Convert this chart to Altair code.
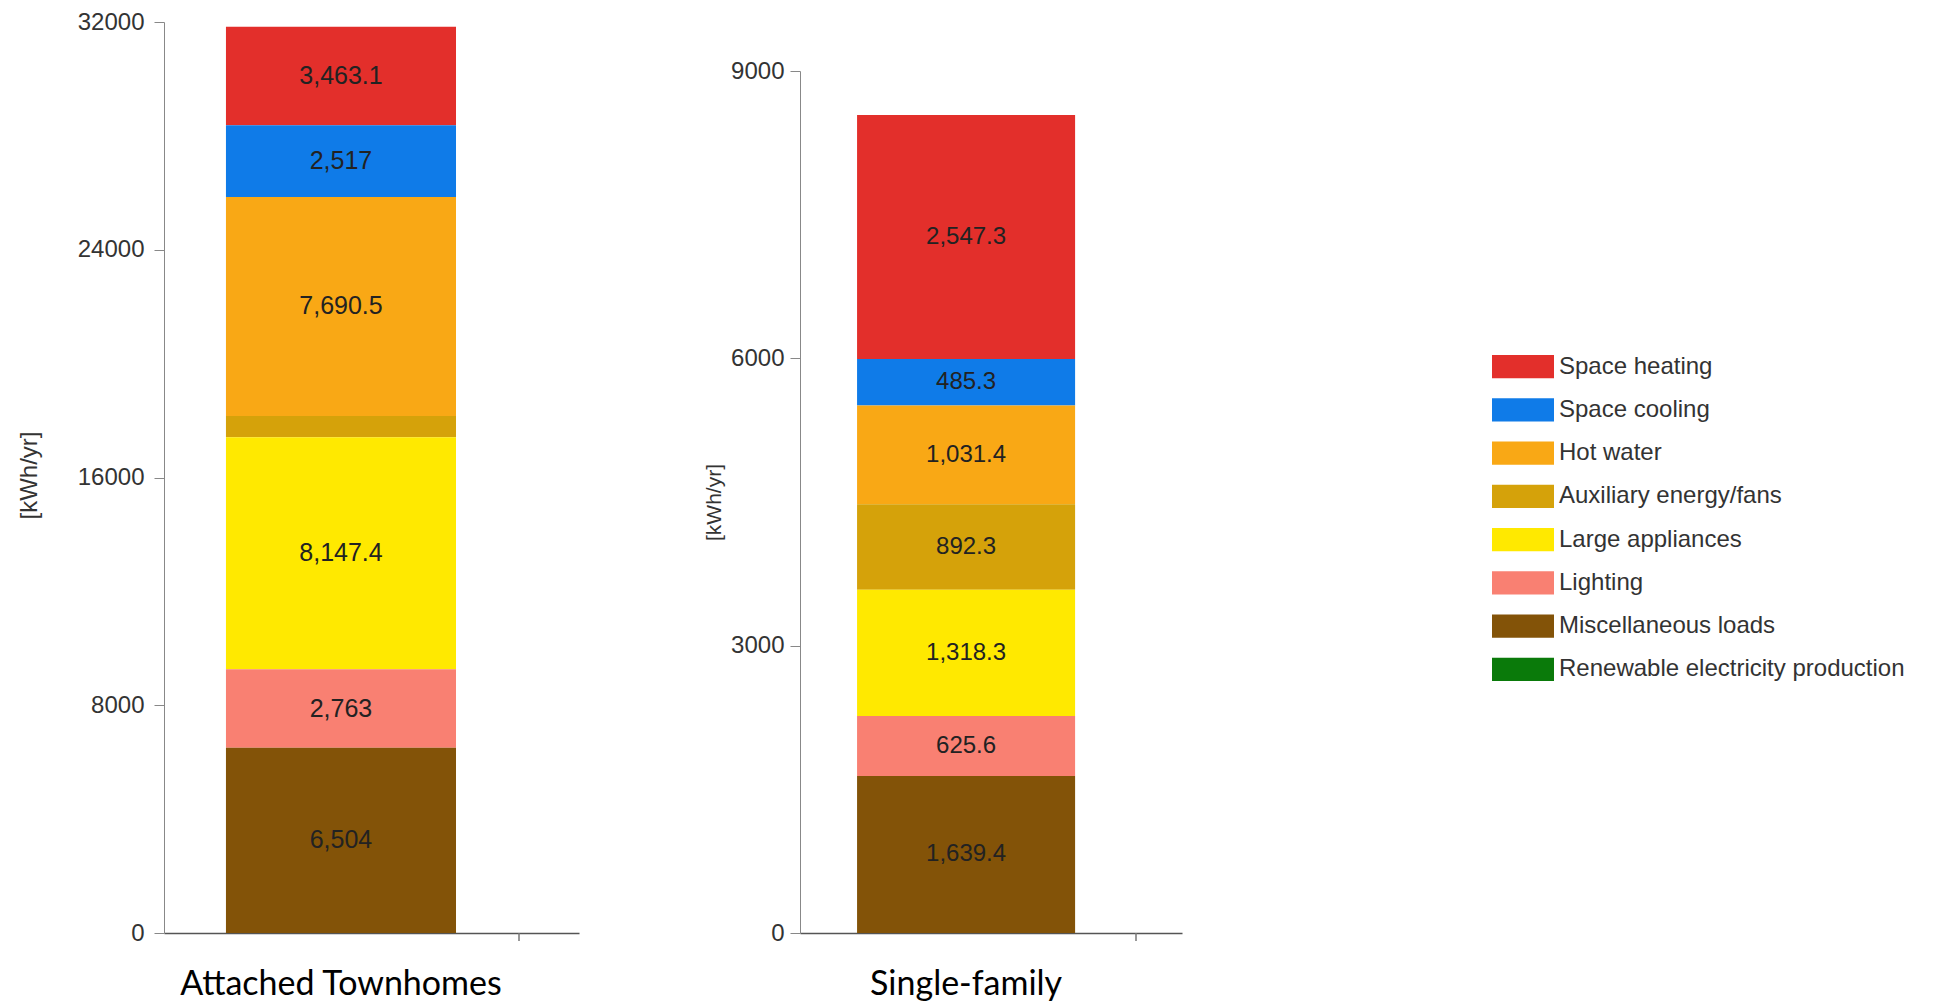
import altair as alt
import pandas as pd

# ---- data ----
categories = [
    "Space heating",
    "Space cooling",
    "Hot water",
    "Auxiliary energy/fans",
    "Large appliances",
    "Lighting",
    "Miscellaneous loads",
    "Renewable electricity production",
]
colors = ["#E32F2B", "#0F7BE8", "#F9A815", "#D5A20A", "#FFE900", "#F98072", "#835308", "#0A7A0A"]
townhome_values = [3463.1, 2517, 7690.5, 750, 8147.4, 2763, 6504, 0]
single_values = [2547.3, 485.3, 1031.4, 892.3, 1318.3, 625.6, 1639.4, 0]
buildings = ["Attached Townhomes", "Single-family"]
y_max = [32000, 9000]
y_ticks = [[0, 8000, 16000, 24000, 32000], [0, 3000, 6000, 9000]]
y_title = "[kWh/yr]"

H = 911
color_scale = alt.Scale(domain=categories, range=colors)


def panel(building, values, ymax, ticks, width, yrange, po, align, tick_x,
          title_x, title_y, title_size, label_size, tick_label_size, tick_pad):
    df = pd.DataFrame({
        "building": building,
        "category": categories,
        "value": values,
        "rank": [len(categories) - 1 - i for i in range(len(categories))],
    })
    base = alt.Chart(df).transform_stack(
        stack="value", groupby=["building"], as_=["y0", "y1"],
        sort=[alt.SortField("rank", order="ascending")],
    ).transform_calculate(mid="(datum.y0 + datum.y1) / 2")

    x = alt.X(
        "building:N", title=None,
        scale=alt.Scale(paddingInner=0, paddingOuter=po, align=align),
        axis=alt.Axis(ticks=False, labelAngle=0, labelFont="Lato", labelFontSize=34,
                      labelColor="#000", labelPadding=34, domainColor="#555",
                      domainWidth=1.5, labelLimit=600),
    )
    yscale = alt.Scale(domain=[0, ymax], range=yrange, nice=False, zero=True)
    yaxis = alt.Axis(values=ticks, format="d", grid=False, domainColor="#888",
                     tickColor="#888", tickSize=10, labelPadding=tick_pad,
                     labelFont="Liberation Sans", labelFontSize=tick_label_size,
                     labelColor="#333", titleFont="Liberation Sans",
                     titleFontSize=title_size, titleFontWeight="normal",
                     titleColor="#333", titleAngle=270, titleX=title_x,
                     titleY=title_y, titleAlign="center",
                     titleBaseline="middle")
    bars = base.mark_bar().encode(
        x=x,
        y=alt.Y("y0:Q", scale=yscale, title=y_title, axis=yaxis),
        y2="y1:Q",
        color=alt.Color("category:N", scale=color_scale, legend=None),
    )
    labels = base.transform_filter(f"datum.value > {ymax * 0.035}").mark_text(
        font="Liberation Sans", fontSize=label_size, color="#222", baseline="middle"
    ).encode(
        x=x,
        y=alt.Y("mid:Q", scale=yscale, title=y_title, axis=yaxis),
        text=alt.Text("value:Q", format=",.1~f"),
    )
    tick = alt.Chart(pd.DataFrame({"t": [0]})).mark_rule(color="#777", strokeWidth=1.5).encode(
        x=alt.value(tick_x), y=alt.value(H), y2=alt.value(H + 8)
    )
    return alt.layer(bars, labels, tick).properties(width=width, height=H)


left = panel(buildings[0], townhome_values, y_max[0], y_ticks[0], 415, [H, 0],
             0.402, 0.335, 355, -135, 453, 24, 25, 24, 10)
right = panel(buildings[1], single_values, y_max[1], y_ticks[1], 382, [H, 49],
              0.376, 0.348, 336, -86, 480, 21, 24, 24, 6)

leg_df = pd.DataFrame({"category": categories})
leg_y = alt.Y("category:N", sort=categories, axis=None,
              scale=alt.Scale(domain=categories, range=[323, 669],
                              paddingInner=0.468, paddingOuter=0.234))
swatch = alt.Chart(leg_df).mark_rect().encode(
    x=alt.value(0), x2=alt.value(62), y=leg_y,
    color=alt.Color("category:N", scale=color_scale, legend=None),
)
leg_text = alt.Chart(leg_df).mark_text(
    align="left", baseline="middle", font="Liberation Sans", fontSize=24, color="#333"
).encode(x=alt.value(67), y=leg_y, text="category:N")
legend = alt.layer(swatch, leg_text).properties(width=420, height=H)

chart = alt.hconcat(
    alt.hconcat(left, right, spacing=124),
    legend,
    spacing=310,
).properties(
    padding={"left": 17, "top": 10, "right": 0, "bottom": 0},
    background="white",
).configure_view(stroke=None)

chart.save("out.html", embed_options={"renderer": "svg", "actions": False})
